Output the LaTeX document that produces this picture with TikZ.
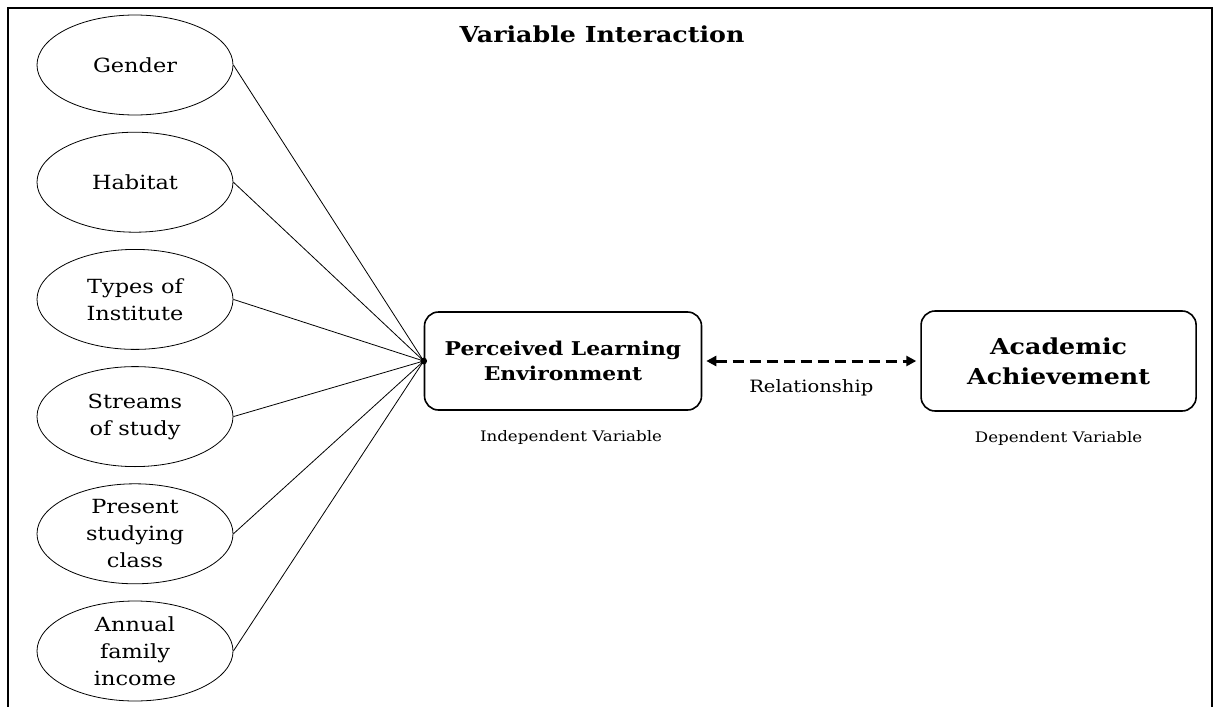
\documentclass[tikz,border=0pt]{standalone}
\usepackage{fontspec}
\setmainfont[FakeStretch=1.15]{DejaVu Serif}
\usetikzlibrary{shapes.geometric, arrows.meta, positioning}

\begin{document}
\begin{tikzpicture}[
    x=1pt, y=-1pt,
    node distance=16.4pt and 218pt,
    factor/.style={draw, ellipse, minimum width=196pt, minimum height=100pt, inner xsep=0pt, inner ysep=-5pt, align=center, line width=0.8pt, font=\fontsize{19.5}{27}\selectfont},
    varbox/.style={draw, rounded corners=14pt, minimum width=277pt, minimum height=98pt, align=center, line width=1.6pt},
    caption/.style={font=\fontsize{14.5}{17}\selectfont},
    link/.style={line width=0.8pt},
    relarrow/.style={{Triangle[length=10pt,width=10pt]}-{Triangle[length=10pt,width=10pt]}, line width=3pt, dash pattern=on 11pt off 6pt, shorten <=4pt, shorten >=4pt}
]
    \useasboundingbox (0,0) rectangle (1216,707);

    % frame, open at the bottom
    \draw[line width=2pt] (8,707) -- (8,8) -- (1212,8) -- (1212,707);

    \node[font=\bfseries\fontsize{22}{25}\selectfont, anchor=base east] (title) at (748,42) {Variable Interaction};

    % background variables
    \node[factor] (gender) at (135,65) {Gender};
    \node[factor, below=of gender] (habitat) {Habitat};
    \node[factor, below=of habitat] (inst) {Types of\\Institute};
    \node[factor, below=of inst] (stream) {Streams\\of study};
    \node[factor, below=of stream] (class) {Present\\studying\\class};
    \node[factor, below=of class] (income) {Annual\\family\\income};

    % main variables
    \node[varbox, font=\bfseries\fontsize{19}{25}\selectfont] (ple) at (563,361) {Perceived Learning\\Environment};
    \node[varbox, right=of ple, minimum width=275pt, minimum height=100pt, font=\bfseries\fontsize{22}{30}\selectfont] (ach) {Academic\\Achievement};
    \node[caption, below=16pt of ple, xshift=8pt] (indep) {Independent Variable};
    \node[caption, below=16pt of ach] (dep) {Dependent Variable};

    \node[circle, fill, inner sep=2.4pt] (hub) at (ple.west) {};

    % connectors
    \foreach \v in {gender, habitat, inst, stream, class, income}
        \draw[link] (\v.east) -- (hub.center);
    \draw[relarrow] (ple) -- node[below=14pt, font=\fontsize{17}{20}\selectfont] (rel) {Relationship} (ach);
\end{tikzpicture}
\end{document}
